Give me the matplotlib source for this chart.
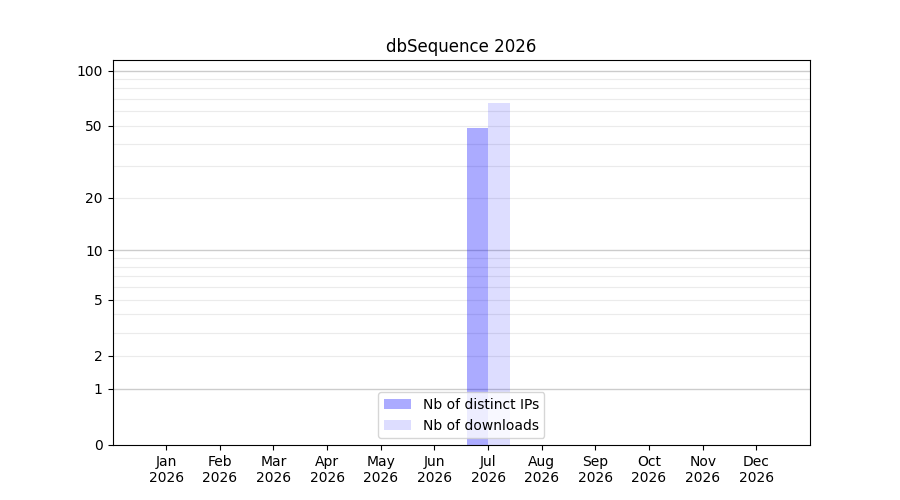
import numpy as np
import matplotlib
matplotlib.use("Agg")
import matplotlib.pyplot as plt
from matplotlib.ticker import FixedLocator, FixedFormatter, NullLocator

title = "dbSequence 2026"
months = ["Jan", "Feb", "Mar", "Apr", "May", "Jun", "Jul", "Aug", "Sep", "Oct", "Nov", "Dec"]
year = "2026"
distinct_ips = [0, 0, 0, 0, 0, 0, 49, 0, 0, 0, 0, 0]
downloads = [0, 0, 0, 0, 0, 0, 67, 0, 0, 0, 0, 0]
ytick_values = [0, 1, 2, 5, 10, 20, 50, 100]
major_grid = [1, 10, 100]
minor_grid = [2, 3, 4, 5, 6, 7, 8, 9, 20, 30, 40, 50, 60, 70, 80, 90]

def fwd(x):
    x = np.asarray(x, dtype=float)
    with np.errstate(invalid="ignore", divide="ignore"):
        return np.log10(1 + np.maximum(x, -0.999999))

def inv(y):
    return 10 ** np.asarray(y, dtype=float) - 1

fig, ax = plt.subplots(figsize=(9, 5), dpi=100)
ax.set_yscale("function", functions=(fwd, inv))

x = np.arange(len(months))
w = 0.4
ax.bar(x - w / 2, distinct_ips, width=w, color="blue", alpha=0.33, linewidth=0,
       label="Nb of distinct IPs", zorder=2)
ax.bar(x + w / 2, downloads, width=w, color="blue", alpha=0.135, linewidth=0,
       label="Nb of downloads", zorder=2)

for v in minor_grid:
    ax.axhline(v, color="#ebebeb", linewidth=0.8, zorder=1)
for v in major_grid:
    ax.axhline(v, color="#cccccc", linewidth=1.0, zorder=1)

ax.set_ylim(0, 114)
ax.yaxis.set_major_locator(FixedLocator(ytick_values))
ax.yaxis.set_major_formatter(FixedFormatter([str(v) for v in ytick_values]))
ax.yaxis.set_minor_locator(NullLocator())

ax.set_xlim(-1, len(months))
ax.set_xticks(x)
ax.set_xticklabels([f"{m}\n{year}" for m in months])

ax.set_title(title)
ax.legend(loc="lower center")

fig.savefig("out.png", dpi=100)
